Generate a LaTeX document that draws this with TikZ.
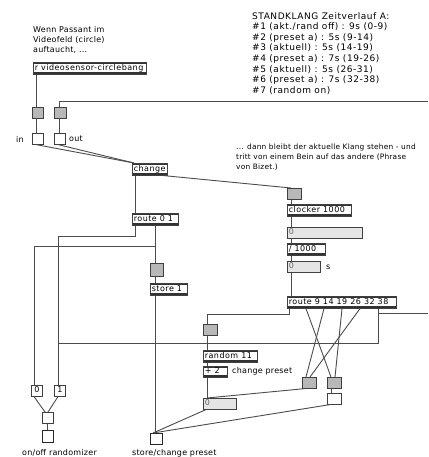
\documentclass[tikz,border=0pt]{standalone}
\usepackage{fontspec}
\newfontfamily\boxfont[LetterSpace=6]{DejaVu Sans}
\newfontfamily\notefont[LetterSpace=3]{DejaVu Sans}
\newfontfamily\widefont[LetterSpace=6]{DejaVu Sans}

\begin{document}
\begin{tikzpicture}[
	x=1pt, y=-1pt,
	box/.style={
		draw=black!75,
		line width=0.6pt,
		anchor=north west,
		inner xsep=1.5pt,
		inner ysep=0pt,
		font=\boxfont\fontsize{8}{9}\selectfont,
		text height=5.8pt,
		text depth=1.6pt,
		minimum height=11pt
	},
	obj box/.style={box, fill=white, minimum height=12pt,
		execute at begin node={\hbox to #1\bgroup},
		execute at end node={\hfil\egroup},
		path picture={
			\fill[black!80] (path picture bounding box.north west) rectangle ([yshift=-2pt]path picture bounding box.north east);
			\fill[black!80] (path picture bounding box.south west) rectangle ([yshift=2pt]path picture bounding box.south east);
		}},
	num box/.style={box, fill=black!10, text=black!60,
		execute at begin node={\hbox to #1\bgroup},
		execute at end node={\hfil\egroup}},
	ui box/.style={box, fill=black!28, minimum width=#1},
	msg box/.style={box, fill=white, minimum width=#1},
	out box/.style={box, fill=white, line width=1.1pt, draw=black!85, minimum width=#1},
	comment/.style={anchor=north west, inner sep=0pt, align=left,
		font=\notefont\fontsize{8}{10}\selectfont},
	cord/.style={draw=black!70, line width=0.9pt}
	]
	
	\useasboundingbox[fill=white] (0,0) rectangle (428,457);
	
	% comments
	\node[comment] (note1) at (33,26)
	{Wenn Passant im\\Videofeld (circle)\\auftaucht, ...};
	\node[comment, font=\widefont\fontsize{9}{10.6}\selectfont] (note2) at (252,12)
	{STANDKLANG Zeitverlauf A:\\
		\#1 (akt./rand off) : 9s (0-9)\\
		\#2 (preset a) : 5s (9-14)\\
		\#3 (aktuell) : 5s (14-19)\\
		\#4 (preset a) : 7s (19-26)\\
		\#5 (aktuell) : 5s (26-31)\\
		\#6 (preset a) : 7s (32-38)\\
		\#7 (random on)};
	\node[comment, font=\notefont\fontsize{7.4}{10}\selectfont] (note3) at (236,144)
	{... dann bleibt der aktuelle Klang stehen - und\\tritt von einem Bein auf das andere (Phrase\\von Bizet.)};
	
	% left column
	\node[obj box=110pt] (recv) at (33,62) {r videosensor-circlebang};
	\node[ui box=11pt] (gA1) at (32,107) {};
	\node[ui box=12pt] (gB1) at (54,107) {};
	\node[msg box=11pt] (gA2) at (32,133) {};
	\node[msg box=11pt] (gB2) at (54,133) {};
	\node[comment, anchor=center] (lblin) at (20,139) {in};
	\node[comment, anchor=west] (lblout) at (69,139) {out};
	\node[obj box=32pt] (change) at (132,163) {change};
	\node[obj box=43pt] (route1) at (132,213) {route 0 1};
	\node[ui box=13pt, minimum height=13pt] (gate3) at (150,263) {};
	\node[obj box=34pt] (store) at (150,283) {store 1};
	
	% clock chain
	\node[ui box=14pt] (bang1) at (287,188) {};
	\node[obj box=61pt] (clocker) at (287,204) {clocker 1000};
	\node[num box=72pt] (num1) at (287,227) {0};
	\node[obj box=35pt] (divide) at (287,243) {/ 1000};
	\node[num box=30pt] (num2) at (287,261) {0};
	\node[comment, anchor=west] (lbls) at (326,267) {s};
	\node[obj box=106pt] (route2) at (287,296) {route 9 14 19 26 32 38};
	
	% preset part
	\node[ui box=14pt] (gate4) at (203,324) {};
	\node[obj box=51pt] (rand) at (203,350) {random 11};
	\node[obj box=21pt, minimum height=11pt] (plus) at (203,366) {+ 2};
	\node[comment, anchor=west] (lblpreset) at (232,371) {change preset};
	\node[num box=30pt] (num3) at (203,398) {0};
	\node[ui box=14pt] (pick1) at (302,377) {};
	\node[ui box=14pt] (pick2) at (327,377) {};
	\node[msg box=14pt] (pick3) at (327,393) {};
	
	% bottom
	\node[msg box=11pt] (zero) at (31,385) {0};
	\node[msg box=11pt] (one) at (54,385) {1};
	\node[msg box=11pt] (merge) at (42,412) {};
	\node[out box=11pt, minimum height=12pt] (sendA) at (42,430) {};
	\node[out box=12pt] (sendB) at (150,433) {};
	\node[comment, anchor=west] (lblrand) at (22,453) {on/off randomizer};
	\node[comment, anchor=west] (lblstore) at (132,453) {store/change preset};
	
	\coordinate (edgeA) at (428,101);
	\coordinate (edgeB) at (428,313);
	
	% cords
	\draw[cord] ([xshift=4pt]gA1.north west |- recv.south) -- ([xshift=4pt]gA1.north west);
	\draw[cord] ([xshift=4pt]gA1.south west) -- ([xshift=4pt]gA2.north west);
	\draw[cord] ([xshift=5pt]gB1.south west) -- ([xshift=5pt]gB2.north west);
	\draw[cord] (edgeA) -| ([xshift=5pt]gB1.north west);
	\draw[cord] ([xshift=4pt]gA2.south west) -- ([xshift=2pt]change.north west);
	\draw[cord] ([xshift=4pt]gB2.south west) -- ([xshift=2pt]change.north west);
	\draw[cord] ([xshift=3pt]change.south west) -- ([xshift=3pt]change.south west |- route1.north);
	\draw[cord] ([xshift=-4pt]change.south east) -- ([xshift=4pt]bang1.north west);
	\draw[cord] ([xshift=4pt]bang1.south west) -- ([xshift=4pt]clocker.north west);
	\draw[cord] ([xshift=4pt]clocker.south west) -- ([xshift=4pt]num1.north west);
	\draw[cord] ([xshift=4pt]num1.south west) -- ([xshift=4pt]divide.north west);
	\draw[cord] ([xshift=4pt]divide.south west) -- ([xshift=4pt]num2.north west);
	\draw[cord] ([xshift=4pt]num2.south west) -- ([xshift=4pt]route2.north west);
	\draw[cord] ([xshift=3pt]route1.south west) -- ++(0,11) -| ([xshift=4pt]one.north west);
	\draw[cord] ([xshift=23pt]route1.south west) -- ++(0,21) -| ([xshift=3pt]zero.north west);
	\draw[cord] ([xshift=5pt]gate3.north west |- route1.south) -- ([xshift=5pt]gate3.north west);
	\draw[cord] ([xshift=5pt]gate3.south west) -- ([xshift=5pt]store.north west);
	\draw[cord] ([xshift=5pt]store.south west) -- ([xshift=5pt]store.south west |- sendB.north);
	\draw[cord] ([xshift=2pt]route2.south west) -- ++(0,6) -| ([xshift=4pt]gate4.north west);
	\draw[cord] ([xshift=4pt]gate4.south west) -- ([xshift=4pt]rand.north west);
	\draw[cord] ([xshift=4pt]rand.south west) -- ([xshift=4pt]plus.north west);
	\draw[cord] ([xshift=4pt]plus.south west) -- ([xshift=4pt]num3.north west);
	\draw[cord] ([xshift=19pt]route2.south west) -- ([xshift=4pt]pick2.north west);
	\draw[cord] ([xshift=37pt]route2.south west) -- ([xshift=4pt]pick1.north west);
	\draw[cord] ([xshift=55pt]route2.south west) -- ([xshift=8pt]pick2.north west);
	\draw[cord] ([xshift=73pt]route2.south west) -- ([xshift=8pt]pick1.north west);
	\draw[cord] ([xshift=91pt]route2.south west) -- ++(0,35) -| ([xshift=4pt]one.north west);
	\draw[cord] ([xshift=91pt]route2.south west) |- (edgeB);
	\draw[cord] ([xshift=3pt]pick1.south west) -- ([xshift=4pt]num3.north west);
	\draw[cord] ([xshift=4pt]pick2.south west) -- ([xshift=4pt]pick3.north west);
	\draw[cord] ([xshift=3pt]pick3.south west) -- ([xshift=3pt]sendB.north west);
	\draw[cord] ([xshift=3pt]num3.south west) -- ([xshift=3pt]sendB.north west);
	\draw[cord] ([xshift=3pt]zero.south west) -- ([xshift=3pt]merge.north west);
	\draw[cord] ([xshift=4pt]one.south west) -- ([xshift=6pt]merge.north west);
	\draw[cord] ([xshift=5pt]merge.south west) -- ([xshift=5pt]sendA.north west);
	
\end{tikzpicture}
\end{document}
